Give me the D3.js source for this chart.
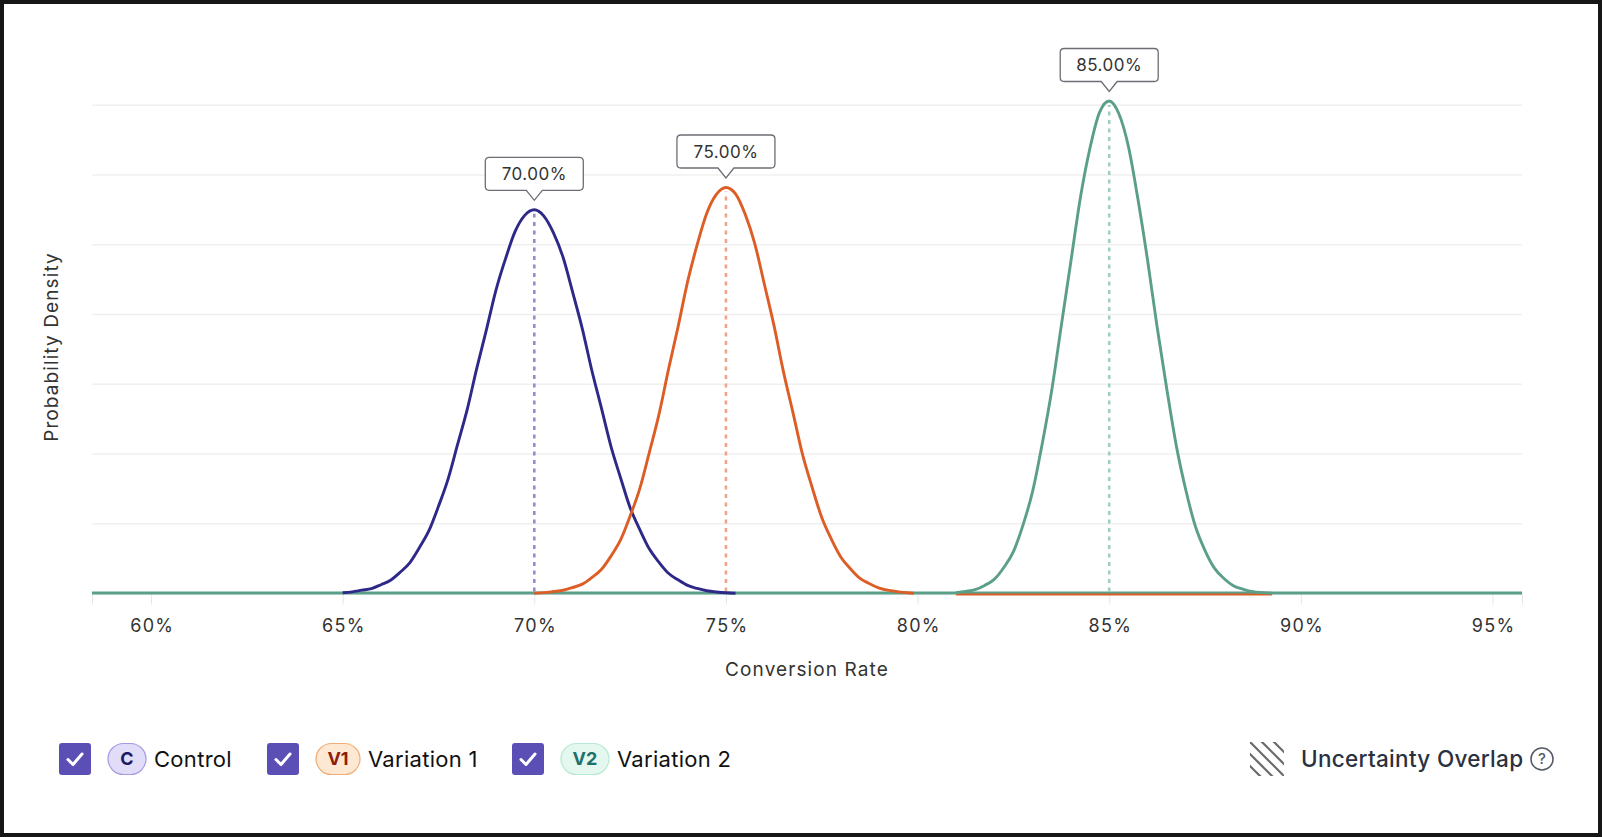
<!DOCTYPE html>
<html>
<head>
<meta charset="utf-8">
<script src="https://cdn.jsdelivr.net/npm/d3@7"></script>
<style>
  html, body { margin: 0; padding: 0; background: #fff; }
  #frame {
    width: 1602px; height: 837px; box-sizing: border-box;
    border: 4px solid #161616; background: #fff; position: relative;
  }
  svg { position: absolute; left: -4px; top: -4px; }
  text { font-family: Inter, "Noto Sans", sans-serif; }
</style>
</head>
<body>
<div id="frame"></div>
<script>
// ---- data ----
var seriesNames = ['Control', 'Variation 1', 'Variation 2'];
var badgeText = ['C', 'V1', 'V2'];
var means = [70.00, 75.00, 85.00];
var rateTicks = [60, 65, 70, 75, 80, 85, 90, 95];
var densityGrid = [5, 10, 15, 20, 25, 30, 35];
var rateDomain = [58.46, 95.77];

// [conversion rate %, probability density]
var controlCurve = [
  [65.00, 0.05], [65.25, 0.12], [65.50, 0.24], [65.75, 0.35], [66.00, 0.63],
  [66.25, 0.95], [66.50, 1.52], [66.75, 2.20], [67.00, 3.28], [67.25, 4.50],
  [67.50, 6.25], [67.75, 8.20], [68.00, 10.70], [68.25, 13.20], [68.50, 16.15],
  [68.75, 18.90], [69.00, 21.75], [69.25, 24.00], [69.50, 25.95], [69.75, 27.10],
  [70.00, 27.50], [70.25, 27.05], [70.50, 25.85], [70.75, 24.10], [71.00, 21.60],
  [71.25, 19.00], [71.50, 16.00], [71.75, 13.30], [72.00, 10.55], [72.25, 8.30],
  [72.50, 6.15], [72.75, 4.60], [73.00, 3.20], [73.25, 2.25], [73.50, 1.45],
  [73.75, 0.98], [74.00, 0.58], [74.25, 0.36], [74.50, 0.20], [74.75, 0.11],
  [75.00, 0.05], [75.25, 0.02]
];
var variation1Curve = [
  [70.00, 0.02], [70.25, 0.06], [70.50, 0.14], [70.75, 0.23], [71.00, 0.43],
  [71.25, 0.67], [71.50, 1.14], [71.75, 1.72], [72.00, 2.68], [72.25, 3.84],
  [72.50, 5.55], [72.75, 7.50], [73.00, 10.10], [73.25, 12.80], [73.50, 16.05],
  [73.75, 19.10], [74.00, 22.35], [74.25, 25.00], [74.50, 27.25], [74.75, 28.60],
  [75.00, 29.10], [75.25, 28.65], [75.50, 27.20], [75.75, 25.10], [76.00, 22.20],
  [76.25, 19.25], [76.50, 15.90], [76.75, 12.95], [77.00, 9.95], [77.25, 7.60],
  [77.50, 5.45], [77.75, 3.90], [78.00, 2.60], [78.25, 1.77], [78.50, 1.08],
  [78.75, 0.70], [79.00, 0.39], [79.25, 0.22], [79.50, 0.12], [79.75, 0.05],
  [79.90, 0.02]
];
var variation2Curve = [
  [81.00, 0.05], [81.25, 0.15], [81.50, 0.27], [81.75, 0.58], [82.00, 1.01],
  [82.25, 1.86], [82.50, 3.00], [82.75, 4.90], [83.00, 7.30], [83.25, 10.70],
  [83.50, 14.55], [83.75, 19.20], [84.00, 23.80], [84.25, 28.40], [84.50, 31.95],
  [84.75, 34.50], [85.00, 35.30], [85.25, 34.40], [85.50, 32.05], [85.75, 28.25],
  [86.00, 23.90], [86.25, 19.10], [86.50, 14.70], [86.75, 10.60], [87.00, 7.40],
  [87.25, 4.80], [87.50, 3.08], [87.75, 1.80], [88.00, 1.06], [88.25, 0.54],
  [88.50, 0.30], [88.75, 0.13], [89.00, 0.06], [89.25, 0.02]
];
var curves = [controlCurve, variation1Curve, variation2Curve];

// ---- styling ----
var lineColors = ['#2e2888', '#dc5e26', '#5b9f8b'];
var meanColors = ['#958bd0', '#f0a388', '#9fcfbf'];
var badgeFill = ['#e1ddf8', '#fde8d4', '#e4f8ef'];
var badgeStroke = ['#a49be3', '#f2ad74', '#b6e9d3'];
var badgeInk = ['#1c1866', '#8e1f0c', '#22706b'];

var W = 1602, H = 837;
var plot = { left: 92, right: 1522, top: 101, bottom: 593.5 };

var svg = d3.select('#frame').append('svg').attr('width', W).attr('height', H);

var x = d3.scaleLinear().domain(rateDomain).range([plot.left, plot.right]);
var yMax = d3.max(curves, function (c) { return d3.max(c, function (d) { return d[1]; }); });
var y = d3.scaleLinear().domain([0, yMax]).range([plot.bottom, plot.top]);

// grid
svg.append('g').selectAll('line').data(densityGrid).enter().append('line')
  .attr('x1', plot.left).attr('x2', plot.right)
  .attr('y1', function (d) { return y(d); }).attr('y2', function (d) { return y(d); })
  .attr('stroke', '#f0f0f0').attr('stroke-width', 1.5);

// x axis
var xAxis = d3.axisBottom(x).tickValues(rateTicks)
  .tickFormat(function (d) { return d + '%'; })
  .tickSize(11).tickSizeOuter(11).tickPadding(15);
var gx = svg.append('g').attr('transform', 'translate(0,' + plot.bottom + ')').call(xAxis);
gx.select('.domain').attr('stroke', '#e6e6e6');
gx.selectAll('.tick line').attr('stroke', '#e6e6e6');
gx.selectAll('.tick text').attr('fill', '#333').attr('dx', '0.7px').style('font-size', '18px')
  .style('letter-spacing', '1.3px').style('font-family', 'Inter, sans-serif');

// axis titles
svg.append('text').attr('x', (plot.left + plot.right) / 2).attr('y', 676)
  .attr('text-anchor', 'middle').attr('fill', '#333')
  .style('font-size', '19px').style('letter-spacing', '1.1px').text('Conversion Rate');
svg.append('text').attr('transform', 'translate(58,' + 347 + ') rotate(-90)')
  .attr('text-anchor', 'middle').attr('fill', '#333')
  .style('font-size', '19px').style('letter-spacing', '1.1px').text('Probability Density');

// baseline
svg.append('line').attr('x1', plot.left).attr('x2', plot.right)
  .attr('y1', y(0) - 0.5).attr('y2', y(0) - 0.5)
  .attr('stroke', lineColors[2]).attr('stroke-width', 3);

// orange floor under the variation 2 range
var v2Extent = d3.extent(variation2Curve, function (d) { return d[0]; });
svg.append('line').attr('x1', x(v2Extent[0])).attr('x2', x(v2Extent[1]))
  .attr('y1', y(0) + 1).attr('y2', y(0) + 1)
  .attr('stroke', lineColors[1]).attr('stroke-width', 2.2);

// mean lines
svg.append('g').selectAll('line').data(means).enter().append('line')
  .attr('x1', function (d) { return x(d); }).attr('x2', function (d) { return x(d); })
  .attr('y1', y(0) - 2)
  .attr('y2', function (d, i) { return y(d3.max(curves[i], function (p) { return p[1]; })) + 4; })
  .attr('stroke', function (d, i) { return meanColors[i]; })
  .attr('stroke-width', 2.6).attr('stroke-dasharray', '4,4.5');

// curves
var line = d3.line()
  .x(function (d) { return x(d[0]); })
  .y(function (d) { return y(d[1]); })
  .curve(d3.curveMonotoneX);

svg.append('g').selectAll('path').data(curves).enter().append('path')
  .attr('d', line).attr('fill', 'none')
  .attr('stroke', function (d, i) { return lineColors[i]; })
  .attr('stroke-width', 2.9).attr('stroke-linejoin', 'round');

// value callouts
var bw = 98, bh = 33, notch = 8, tip = 10, gap = 9.5;
var callouts = svg.append('g').selectAll('g').data(means).enter().append('g')
  .attr('transform', function (d, i) {
    var py = y(d3.max(curves[i], function (p) { return p[1]; }));
    return 'translate(' + x(d) + ',' + (py - gap) + ')';
  });
callouts.append('path')
  .attr('d', function () {
    var r = 4, l = -bw / 2, rr = bw / 2, b = -tip, t = -tip - bh;
    return 'M' + (-notch) + ',' + b + ' L0,0 L' + notch + ',' + b +
      ' H' + (rr - r) + ' Q' + rr + ',' + b + ' ' + rr + ',' + (b - r) +
      ' V' + (t + r) + ' Q' + rr + ',' + t + ' ' + (rr - r) + ',' + t +
      ' H' + (l + r) + ' Q' + l + ',' + t + ' ' + l + ',' + (t + r) +
      ' V' + (b - r) + ' Q' + l + ',' + b + ' ' + (l + r) + ',' + b + ' Z';
  })
  .attr('fill', '#fff').attr('stroke', '#6b6e74').attr('stroke-width', 1.3);
callouts.append('text')
  .attr('y', -tip - bh / 2).attr('dy', '0.36em').attr('text-anchor', 'middle')
  .attr('fill', '#333').style('font-size', '17px').style('letter-spacing', '0.5px')
  .text(function (d) { return d.toFixed(2) + '%'; });

// legend
var legendY = 759;
var legendX = [59, 267, 512];
var badgeW = [38, 44, 48];
var leg = svg.append('g').selectAll('g').data(seriesNames).enter().append('g')
  .attr('transform', function (d, i) { return 'translate(' + legendX[i] + ',' + legendY + ')'; });
leg.append('rect').attr('x', 0).attr('y', -16).attr('width', 32).attr('height', 32)
  .attr('rx', 3).attr('fill', '#5b4fb6');
leg.append('path').attr('d', 'M9,0.5 L14,5.5 L23,-5')
  .attr('fill', 'none').attr('stroke', '#fff').attr('stroke-width', 3)
  .attr('stroke-linecap', 'round').attr('stroke-linejoin', 'round');
leg.append('rect').attr('x', 49).attr('y', -15.5)
  .attr('width', function (d, i) { return badgeW[i]; }).attr('height', 31).attr('rx', 15.5)
  .attr('fill', function (d, i) { return badgeFill[i]; })
  .attr('stroke', function (d, i) { return badgeStroke[i]; }).attr('stroke-width', 1.2);
leg.append('text')
  .attr('x', function (d, i) { return 49 + badgeW[i] / 2; }).attr('dy', '0.36em')
  .attr('text-anchor', 'middle').attr('fill', function (d, i) { return badgeInk[i]; })
  .style('font-size', '18px').style('font-weight', 700)
  .text(function (d, i) { return badgeText[i]; });
leg.append('text')
  .attr('x', function (d, i) { return 49 + badgeW[i] + 8; }).attr('dy', '0.36em')
  .attr('fill', '#111').style('font-size', '22px').style('letter-spacing', '0.3px')
  .text(function (d) { return d; });

// uncertainty overlap key
var uo = svg.append('g').attr('transform', 'translate(1250,' + legendY + ')');
uo.append('clipPath').attr('id', 'hatchClip').append('rect')
  .attr('x', 0).attr('y', -17).attr('width', 34).attr('height', 34);
uo.append('g').attr('clip-path', 'url(#hatchClip)').selectAll('line')
  .data([-24, -12, 0, 12, 24]).enter().append('line')
  .attr('x1', function (d) { return d - 2; }).attr('y1', -19)
  .attr('x2', function (d) { return d + 36; }).attr('y2', 19)
  .attr('stroke', '#6a6a6a').attr('stroke-width', 2.2);
uo.append('text').attr('x', 51).attr('dy', '0.36em').attr('fill', '#2a3140')
  .style('font-size', '22.5px').style('font-weight', 500).style('letter-spacing', '0.3px')
  .text('Uncertainty Overlap');
uo.append('circle').attr('cx', 292).attr('cy', 0).attr('r', 11)
  .attr('fill', 'none').attr('stroke', '#555b66').attr('stroke-width', 1.6);
uo.append('text').attr('x', 292).attr('dy', '0.36em').attr('text-anchor', 'middle')
  .attr('fill', '#555b66').style('font-size', '15px').style('font-weight', 500).text('?');
</script>
</body>
</html>
